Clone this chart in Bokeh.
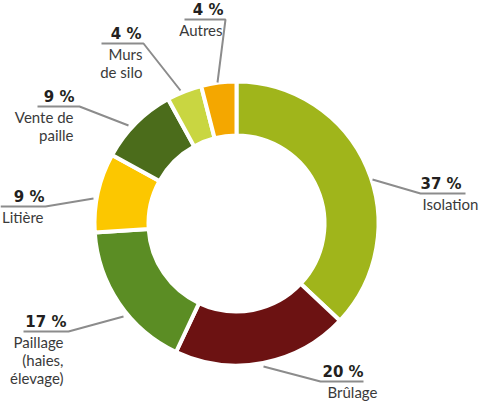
import math
from bokeh.plotting import figure
from bokeh.models import Range1d, ColumnDataSource
from bokeh.core.properties import value
from bokeh.embed import file_html
from bokeh.resources import INLINE

# --- data -----------------------------------------------------------------
categories = ["Isolation", "Brûlage", "Paillage (haies, élevage)", "Litière",
              "Vente de paille", "Murs de silo", "Autres"]
shares = [37, 20, 17, 9, 9, 4, 4]
name_lines = [["Isolation"], ["Brûlage"], ["Paillage", "(haies,", "élevage)"],
              ["Litière"], ["Vente de", "paille"], ["Murs", "de silo"], ["Autres"]]

# --- styling / layout -------------------------------------------------------
colors = ["#a0b51b", "#6c1212", "#5b8d24", "#fcc700", "#4b6c1b", "#c9d641", "#f4a700"]
W, H = 480, 402
CX, CY = 236, 223          # ring centre (pixels from top-left)
R_OUT, R_IN = 142, 88      # radii incl. half of the white separator stroke
NAME_FONT = "Lato"
PCT_FONT = "DejaVu Sans"

def sy(py):
    return H - py

# leader lines: start on ring, elbow, end of horizontal rule (pixel coords)
leaders = [
    [(372, 179), (420, 193), (465, 193)],
    [(263, 366), (320, 381), (363, 381)],
    [(123, 316), (68, 331), (23, 331)],
    [(93, 198), (45, 206), (0, 206)],
    [(128, 125), (79, 106), (37, 106)],
    [(180, 90), (143, 43), (101, 43)],
    [(217, 82), (225, 19), (184, 19)],
]
# label anchors: align, percent x, name x
label_align = ["left", "left", "right", "right", "right", "right", "right"]
pct_x = [420, 322, 66, 44, 74, 141, 223]
name_x = [422, 327, 63, 43, 73, 142, 222]

p = figure(width=W, height=H, x_range=Range1d(0, W), y_range=Range1d(0, H),
           output_backend="svg", toolbar_location=None, min_border=0)
p.axis.visible = False
p.grid.visible = False
p.outline_line_color = None
p.background_fill_color = "white"
p.border_fill_color = "white"

# ring segments, clockwise from 12 o'clock
total = float(sum(shares))
starts, ends = [], []
acc = 0.0
for s in shares:
    starts.append(math.pi / 2 - 2 * math.pi * acc / total)
    acc += s
    ends.append(math.pi / 2 - 2 * math.pi * acc / total)

src = ColumnDataSource(dict(x=[CX] * len(shares), y=[sy(CY)] * len(shares),
                            start=starts, end=ends, color=colors, cat=categories))
p.annular_wedge(x="x", y="y", inner_radius=R_IN, outer_radius=R_OUT,
                start_angle="start", end_angle="end", direction="clock",
                fill_color="color", line_color="white", line_width=4, source=src)

# leader lines
p.multi_line(xs=[[pt[0] for pt in l] for l in leaders],
             ys=[[sy(pt[1]) for pt in l] for l in leaders],
             line_color="#8c8c8c", line_width=2)

# percentage labels (bold, just above the rule) and category names below it
for i, s in enumerate(shares):
    rule_y = leaders[i][2][1]
    p.text(x=[pct_x[i]], y=[sy(rule_y - 10)], text=[f"{s} %"],
           text_font=value(PCT_FONT), text_font_style="bold", text_font_size="15px",
           text_color="#231f20", text_align=label_align[i],
           text_baseline="alphabetic")
    for j, line in enumerate(name_lines[i]):
        p.text(x=[name_x[i]], y=[sy(rule_y + 10 + 18 * j)], text=[line],
               text_font=value(NAME_FONT), text_font_size="15px",
               text_color="#3a3a3a", text_align=label_align[i],
               text_baseline="alphabetic")

open("out.html", "w").write(file_html(p, INLINE))
